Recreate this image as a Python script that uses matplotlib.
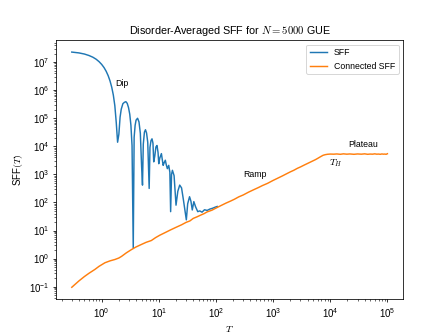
import numpy as np
import matplotlib
matplotlib.use('Agg')
import matplotlib.pyplot as plt

plt.rcParams['font.family'] = ['Liberation Sans', 'DejaVu Sans']
plt.rcParams['mathtext.fontset'] = 'cm'

# full SFF (disconnected + connected)
T_sff = [0.3, 0.4, 0.5, 0.6, 0.7, 0.8, 0.9, 1.0, 1.1, 1.2, 1.3, 1.4, 1.5, 1.6, 1.7, 1.8,
         1.9, 2.0, 2.1, 2.2, 2.35, 2.5, 2.65, 2.8, 2.95, 3.1, 3.25, 3.4, 3.57, 3.7, 3.85,
         4.0, 4.25, 4.5, 4.75, 5.0, 5.18, 5.35, 5.6, 5.84, 6.1, 6.4, 6.78, 7.0, 7.3, 7.6,
         7.9, 8.15, 8.5, 8.9, 9.3, 9.7, 9.98, 10.4, 11.1, 11.9, 12.4, 13.0, 13.5, 14.1,
         14.9, 15.6, 16.1, 16.7, 17.3, 18.5, 20.0, 21.5, 23.2, 25.0, 27.0, 30.3, 32.0,
         34.5, 36.5, 38.5, 41.0, 44.0, 48.0, 52.0, 57.0, 63.0, 70.0, 78.0, 87.0, 97.0, 105.0]
S_sff = [2.28e7, 2.13e7, 1.94e7, 1.72e7, 1.50e7, 1.27e7, 1.04e7, 8.3e6, 6.4e6, 4.7e6,
         3.28e6, 2.14e6, 1.28e6, 6.7e5, 2.8e5, 7.0e4,
         1.4e4, 2.7e4, 1.09e5, 2.1e5, 3.3e5, 3.7e5, 3.9e5, 3.4e5, 2.4e5, 1.4e5, 5.6e4,
         1.06e4, 2.4, 2.1e4, 5.6e4,
         8.6e4, 1.0e5, 7.4e4, 2.9e4, 1.9e3, 415, 1.2e4, 3.2e4, 3.9e4, 3.0e4, 1.4e4, 316,
         9.1e3, 1.6e4, 1.85e4,
         1.3e4, 2.8e3, 4.5e3, 9.5e3, 1.07e4, 6.0e3, 2.4e3, 3.8e3, 5.5e3, 2.1e3, 2.6e3,
         3.2e3, 2.2e3, 1.6e3,
         2.1e3, 1.2e3, 47, 1.0e3, 1.4e3, 900, 80, 250, 415, 330, 120, 24, 90,
         160, 110, 54, 107, 70, 47, 50, 45, 55, 52, 58, 62, 68, 72]

# connected SFF
T_conn = [0.3, 0.4, 0.5, 0.6, 0.76, 0.9, 1.14, 1.4, 1.71, 2.0, 2.23, 2.7, 3.33, 4.0,
          4.98, 6.0, 7.4, 8.8, 10.4, 13.0, 16.0, 20.0, 25.0, 30.0, 35.0, 40.0, 47.0,
          55.0, 62.0, 70.0, 85.0, 100.0, 120.0, 150.0, 180.0, 210.0, 250.0, 300.0,
          370.0, 450.0, 550.0, 650.0, 800.0, 1000.0, 1200.0, 1450.0, 1700.0, 2000.0,
          2300.0, 2650.0, 3040.0, 3500.0, 4000.0, 4500.0, 5000.0, 5500.0, 6000.0,
          6800.0, 7500.0, 8200.0, 8900.0, 1.0e4, 1.15e4, 1.3e4, 1.5e4, 1.7e4, 1.95e4,
          2.2e4, 2.6e4, 3.0e4, 3.5e4, 4.0e4, 4.5e4, 5.0e4, 5.5e4, 6.0e4, 6.5e4, 7.0e4,
          7.5e4, 8.0e4, 8.5e4, 9.0e4, 9.5e4, 1.0e5]
S_conn = [0.095, 0.16, 0.23, 0.30, 0.41, 0.53, 0.71, 0.83, 0.93, 1.05, 1.2, 1.6, 2.1, 2.6,
          3.2, 3.8, 4.4, 5.6, 6.8, 8.5, 10.5, 13.0, 16.0, 19.5, 22.0, 27.0, 31.0,
          36.0, 40.0, 46.0, 53.0, 63.0, 76.0, 95.0, 112.0, 130.0, 158.0, 185.0,
          232.0, 280.0, 338.0, 400.0, 480.0, 610.0, 730.0, 880.0, 1040.0, 1230.0,
          1400.0, 1640.0, 1860.0, 2150.0, 2450.0, 2750.0, 3050.0, 3350.0, 3700.0,
          4300.0, 4800.0, 5050.0, 5200.0, 5300.0, 5250.0, 5350.0, 5200.0, 5400.0, 5250.0,
          5350.0, 5200.0, 5350.0, 5250.0, 5400.0, 5200.0, 5300.0, 5250.0, 5400.0, 5250.0,
          5300.0, 5200.0, 5350.0, 5250.0, 5300.0, 5200.0, 5450.0]

xticks = [1e0, 1e1, 1e2, 1e3, 1e4, 1e5]
yticks = [1e-1, 1e0, 1e1, 1e2, 1e3, 1e4, 1e5, 1e6, 1e7]

fig = plt.figure(figsize=(6.4, 4.8))
ax = fig.add_subplot(111)
ax.loglog(T_sff, S_sff, color='C0', lw=1.5, label='SFF')
ax.loglog(T_conn, S_conn, color='C1', lw=1.5, label='Connected SFF')

ax.text(1.75, 1.8e6, 'Dip', fontsize=9, va='center', ha='left')
ax.text(306, 1.0e3, 'Ramp', fontsize=9, va='center', ha='left')
ax.text(2.07e4, 1.17e4, 'Plateau', fontsize=9, va='center', ha='left')
ax.text(9350, 2500, '$T_H$', fontsize=10, va='center', ha='left')

# only label decades that fall inside the view
xlim = ax.get_xlim()
ylim = ax.get_ylim()
ax.set_xticks(xticks)
ax.set_yticks(yticks)
ax.set_xlim(xlim)
ax.set_ylim(ylim)

ax.set_xlabel('$T$', fontsize=10)
ax.set_ylabel('SFF$(T)$', fontsize=10)
ax.set_title('Disorder-Averaged SFF for $N = 5000$ GUE', fontsize=11)
ax.tick_params(labelsize=10)
ax.legend(loc='upper right', fontsize=9)

plt.savefig('out.png', dpi=70)
